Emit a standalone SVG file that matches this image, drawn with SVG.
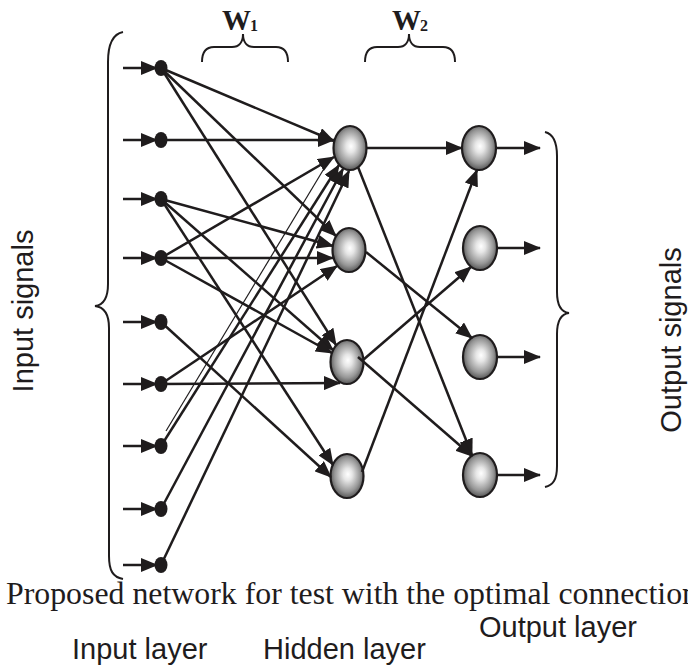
<svg xmlns="http://www.w3.org/2000/svg" width="688" height="672" viewBox="0 0 688 672">
  <defs>
    <radialGradient id="shade" cx="0.5" cy="0.48" r="0.55" fx="0.53" fy="0.46">
      <stop offset="0" stop-color="#ffffff"/>
      <stop offset="0.25" stop-color="#e6e6e6"/>
      <stop offset="0.7" stop-color="#969696"/>
      <stop offset="1" stop-color="#4a4a4a"/>
    </radialGradient>
    <marker id="arrow" viewBox="0 0 17 14" refX="16" refY="7" markerWidth="17" markerHeight="14" markerUnits="userSpaceOnUse" orient="auto">
      <path d="M0,0 L17,7 L0,14 Z" fill="#1f1c1d"/>
    </marker>
  </defs>
  <style>
    .link{stroke:#1f1c1d;stroke-width:2.5;fill:none;marker-end:url(#arrow)}
    .thin{stroke:#1f1c1d;stroke-width:1.2;fill:none}
    .neuron{fill:url(#shade);stroke:#1f1c1d;stroke-width:2.2}
    .dot{fill:#1f1c1d}
    .brace{fill:none;stroke:#1f1c1d;stroke-width:2}
    .sans{font-family:"Liberation Sans",Arial,sans-serif;font-size:29px;fill:#1f1c1d}
    .serif{font-family:"Liberation Serif","Times New Roman",serif;fill:#1f1c1d}
    .w{font-weight:bold}
  </style>

  <rect width="688" height="672" fill="#ffffff"/>

  <!-- input layer -->
  <g id="in1"><ellipse class="dot" cx="161" cy="68" rx="6.5" ry="8"/></g>
  <g id="in2"><ellipse class="dot" cx="161" cy="140" rx="6.5" ry="8"/></g>
  <g id="in3"><ellipse class="dot" cx="161" cy="199" rx="6.5" ry="8"/></g>
  <g id="in4"><ellipse class="dot" cx="161" cy="258" rx="6.5" ry="8"/></g>
  <g id="in5"><ellipse class="dot" cx="161" cy="322" rx="6.5" ry="8"/></g>
  <g id="in6"><ellipse class="dot" cx="161" cy="384" rx="6.5" ry="8"/></g>
  <g id="in7"><ellipse class="dot" cx="161" cy="446" rx="6.5" ry="8"/></g>
  <g id="in8"><ellipse class="dot" cx="161" cy="509" rx="6.5" ry="8"/></g>
  <g id="in9"><ellipse class="dot" cx="161" cy="565" rx="6.5" ry="8"/></g>

  <!-- hidden layer -->
  <g id="h1"><ellipse class="neuron" cx="350" cy="148" rx="16.5" ry="22"/></g>
  <g id="h2"><ellipse class="neuron" cx="349" cy="250" rx="16.5" ry="22"/></g>
  <g id="h3"><ellipse class="neuron" cx="347" cy="362" rx="16.5" ry="22"/></g>
  <g id="h4"><ellipse class="neuron" cx="347" cy="476" rx="16.5" ry="22"/></g>

  <!-- output layer -->
  <g id="out1"><ellipse class="neuron" cx="479" cy="148" rx="17" ry="22"/></g>
  <g id="out2"><ellipse class="neuron" cx="480" cy="248" rx="17" ry="22"/></g>
  <g id="out3"><ellipse class="neuron" cx="480" cy="357" rx="17" ry="22"/></g>
  <g id="out4"><ellipse class="neuron" cx="480" cy="475" rx="17" ry="22"/></g>

  <g id="connectors">
    <!-- incoming signals -->
    <path class="link" d="M123,68 H157"/>
    <path class="link" d="M123,140 H157"/>
    <path class="link" d="M123,199 H157"/>
    <path class="link" d="M123,258 H157"/>
    <path class="link" d="M123,322 H157"/>
    <path class="link" d="M123,384 H157"/>
    <path class="link" d="M123,446 H157"/>
    <path class="link" d="M123,509 H157"/>
    <path class="link" d="M123,565 H157"/>

    <!-- W1: input to hidden -->
    <path class="link" d="M161,68 L334,141"/>
    <path class="link" d="M161,68 L336,236"/>
    <path class="link" d="M161,68 L336,345"/>
    <path class="link" d="M161,140 L334,140"/>
    <path class="link" d="M161,199 L333,246"/>
    <path class="link" d="M161,199 L333,350"/>
    <path class="link" d="M161,199 L333,465"/>
    <path class="link" d="M161,258 L334,157"/>
    <path class="link" d="M161,258 L333,258"/>
    <path class="link" d="M161,258 L332,353"/>
    <path class="link" d="M161,322 L331,477"/>
    <path class="link" d="M161,384 L337,266"/>
    <path class="link" d="M161,384 L340,383"/>
    <path class="thin" d="M166,431 L328,162"/>
    <path class="link" d="M161,446 L339,165"/>
    <path class="link" d="M161,509 L343,169"/>
    <path class="link" d="M161,565 L349,171"/>

    <!-- W2: hidden to output -->
    <path class="link" d="M366,148 L462,148"/>
    <path class="link" d="M358,167 L472,455"/>
    <path class="link" d="M366,252 L472,338"/>
    <path class="link" d="M363,360 L471,267"/>
    <path class="link" d="M358,357 L472,456"/>
    <path class="link" d="M362,472 L477,170"/>

    <!-- outgoing signals -->
    <path class="link" d="M496,148 H540"/>
    <path class="link" d="M497,248 H540"/>
    <path class="link" d="M497,357 H540"/>
    <path class="link" d="M497,475 H540"/>
  </g>

  <!-- braces -->
  <g id="braces">
    <path class="brace" d="M123,32 C113,34 108,44 108,62 L108,284 C108,298 104,305 95,306 C104,307 109,314 109,328 L109,556 C109,571 113,577 123,579"/>
    <path class="brace" d="M545,132 C553,134 557,141 557,156 L557,292 C557,306 561,312 569,313 C561,314 557,320 557,334 L557,466 C557,480 553,485 545,487"/>
    <path class="brace" d="M202,62 C202,52 206,47 214,47 L232,47 C239,47 243,42 243,34 C243,42 247,47 254,47 L276,47 C284,47 288,52 288,62"/>
    <path class="brace" d="M365,62 C365,52 369,47 377,47 L398,47 C405,47 409,42 409,34 C409,42 413,47 420,47 L443,47 C451,47 455,52 455,62"/>
  </g>

  <!-- labels -->
  <g id="labels">
    <text class="serif w" x="222" y="30" font-size="29">W</text>
    <text class="serif w" x="250" y="31" font-size="16">1</text>
    <text class="serif w" x="392" y="30" font-size="29">W</text>
    <text class="serif w" x="420" y="31" font-size="16">2</text>
    <text class="sans" text-anchor="middle" transform="translate(33,311) rotate(-90)">Input signals</text>
    <text class="sans" text-anchor="middle" transform="translate(681,340) rotate(-90)">Output signals</text>
    <text class="serif" x="6" y="604" font-size="31" textLength="692" lengthAdjust="spacingAndGlyphs">Proposed network for test with the optimal connection</text>
    <text class="sans" x="72" y="659">Input layer</text>
    <text class="sans" x="263" y="659">Hidden layer</text>
    <text class="sans" x="479" y="637">Output layer</text>
  </g>
</svg>
